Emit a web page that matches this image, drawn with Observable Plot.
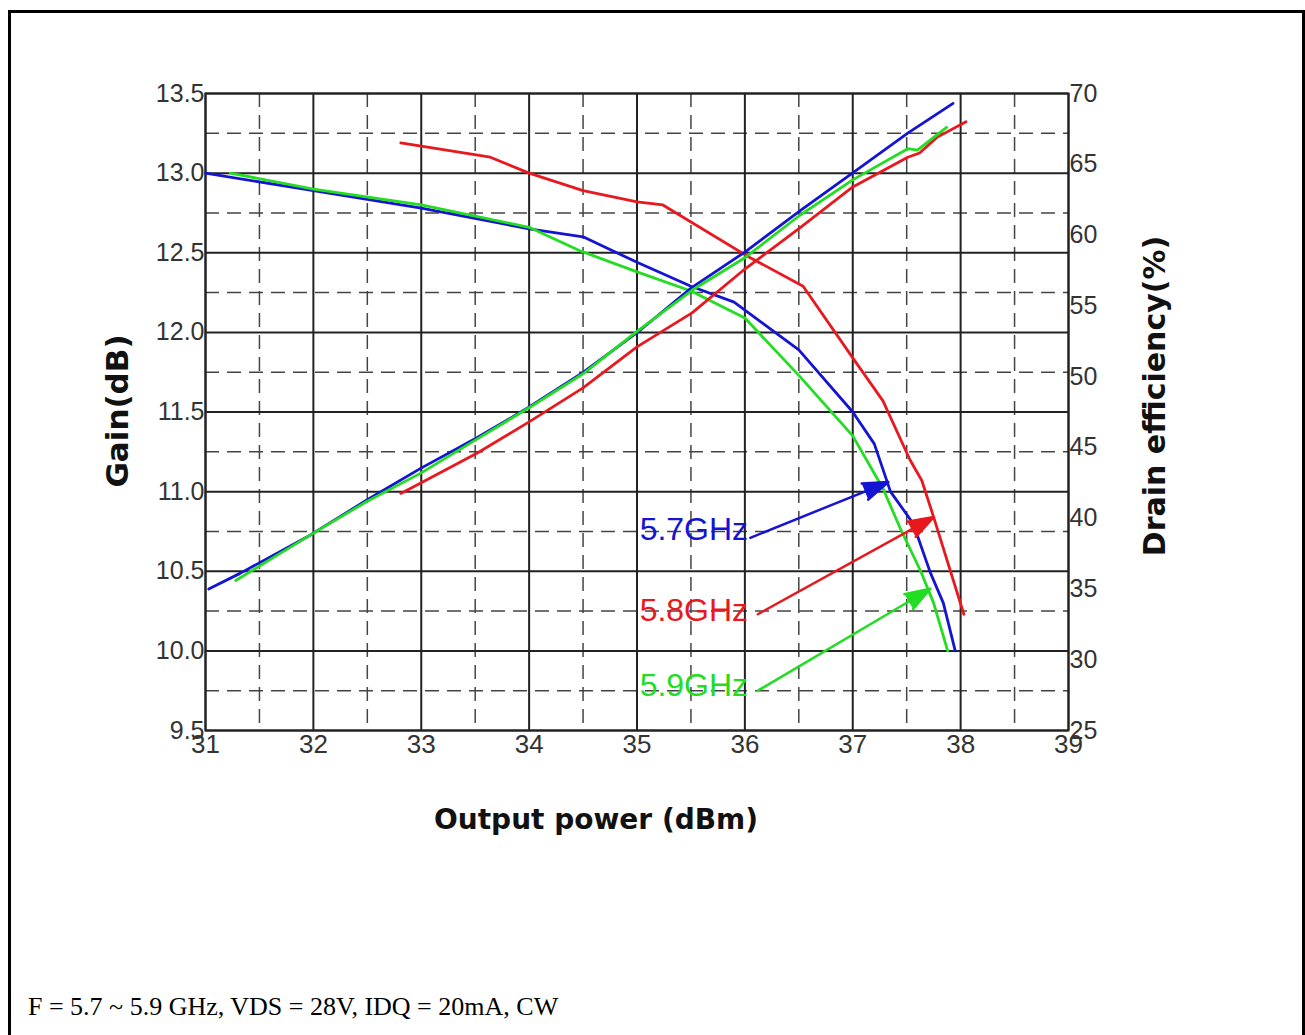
<!DOCTYPE html>
<html>
<head>
<meta charset="utf-8">
<script src="https://cdn.jsdelivr.net/npm/d3@7"></script>
<script src="https://cdn.jsdelivr.net/npm/@observablehq/plot@0.6"></script>
<style>
  html, body { margin: 0; padding: 0; background: #fff; }
  #wrap { position: relative; width: 1305px; height: 1035px; overflow: hidden; background: #fff; }
  #border { position: absolute; left: 8px; top: 10px; width: 1291px; height: 1040px; border: 3px solid #000; pointer-events: none; }
  #chart { position: absolute; left: 0; top: 0; }
  #caption { position: absolute; left: 28px; top: 994px; font-family: "Liberation Serif", "Times New Roman", serif; font-size: 26px; line-height: 1; color: #000; white-space: nowrap; }
</style>
</head>
<body>
<div id="wrap">
  <div id="chart"></div>
  <div id="border"></div>
  <div id="caption">F = 5.7 ~ 5.9 GHz, VDS = 28V, IDQ = 20mA, CW</div>
</div>
<script>
// ---- Data ----
const series = ["5.7GHz", "5.8GHz", "5.9GHz"];
const seriesColors = ["#1414d2", "#e8191e", "#22dd22"];

// Gain (dB) vs output power (dBm)
const gainP_57 = [31, 32, 33, 34, 34.5, 35, 35.5, 35.9, 36.5, 37, 37.2, 37.35, 37.56, 37.72, 37.84, 37.95];
const gain_57  = [13.0, 12.89, 12.78, 12.65, 12.6, 12.44, 12.29, 12.19, 11.89, 11.5, 11.3, 11.0, 10.8, 10.49, 10.3, 10.0];
const gainP_58 = [32.81, 33.64, 34, 34.5, 35, 35.24, 36.02, 36.54, 37, 37.28, 37.53, 37.64, 37.75, 38.03];
const gain_58  = [13.19, 13.1, 13.0, 12.89, 12.82, 12.8, 12.48, 12.29, 11.84, 11.57, 11.2, 11.07, 10.84, 10.23];
const gainP_59 = [31.23, 32, 33, 34, 34.48, 35, 35.5, 36, 36.5, 37, 37.28, 37.44, 37.63, 37.75, 37.88];
const gain_59  = [13.0, 12.9, 12.8, 12.66, 12.51, 12.38, 12.26, 12.09, 11.73, 11.35, 11.02, 10.77, 10.5, 10.3, 10.0];

// Drain efficiency (%) vs output power (dBm)
const effP_57 = [31.03, 31.32, 31.97, 32.5, 32.99, 33.52, 33.99, 34.5, 35, 35.51, 36, 36.51, 37, 37.51, 37.93];
const eff_57  = [35.0, 36.1, 38.8, 41.3, 43.5, 45.7, 47.8, 50.3, 53.1, 56.3, 58.8, 61.7, 64.4, 67.2, 69.3];
const effP_58 = [32.81, 33, 33.52, 34, 34.5, 35, 35.51, 36, 36.51, 37, 37.51, 37.62, 37.78, 38.05];
const eff_58  = [41.75, 42.5, 44.6, 46.8, 49.2, 52.1, 54.5, 57.6, 60.5, 63.4, 65.5, 65.8, 66.9, 68.0];
const effP_59 = [31.28, 31.97, 32.5, 33, 33.52, 34, 34.5, 35, 35.51, 36, 36.51, 37, 37.51, 37.6, 37.75, 37.87];
const eff_59  = [35.6, 38.8, 41.2, 43.2, 45.6, 47.8, 50.2, 53.2, 56.1, 58.4, 61.4, 63.9, 66.1, 66.0, 66.9, 67.6];

// Annotation labels and arrows (data coordinates: power, gain)
const labelP = [36.03, 36.03, 36.03];
const labelGain = [10.76, 10.25, 9.78];
const arrowP1 = [36.05, 36.12, 36.12];
const arrowG1 = [10.71, 10.23, 9.75];
const arrowP2 = [37.33, 37.75, 37.72];
const arrowG2 = [11.06, 10.84, 10.39];

// Axes
const xTicks = [31, 32, 33, 34, 35, 36, 37, 38, 39];
const gainTicks = [9.5, 10.0, 10.5, 11.0, 11.5, 12.0, 12.5, 13.0, 13.5];
const effTicks = [25, 30, 35, 40, 45, 50, 55, 60, 65, 70];
const xMinor = [31.5, 32.5, 33.5, 34.5, 35.5, 36.5, 37.5, 38.5];
const gainMinor = [9.75, 10.25, 10.75, 11.25, 11.75, 12.25, 12.75, 13.25];

// ---- Build tables ----
const gMin = 9.5, gMax = 13.5, eMin = 25, eMax = 70;
const effToGain = e => gMin + (e - eMin) * (gMax - gMin) / (eMax - eMin);
const gainToEff = g => eMin + (g - gMin) * (eMax - eMin) / (gMax - gMin);

const curves = [];
[[gainP_57, gain_57, 0], [gainP_58, gain_58, 1], [gainP_59, gain_59, 2]].forEach(([xs, ys, s]) => {
  xs.forEach((x, i) => curves.push({key: "gain-" + s, s, x, y: ys[i]}));
});
[[effP_57, eff_57, 0], [effP_58, eff_58, 1], [effP_59, eff_59, 2]].forEach(([xs, ys, s]) => {
  xs.forEach((x, i) => curves.push({key: "eff-" + s, s, x, y: effToGain(ys[i])}));
});

const labels = series.map((t, i) => ({text: t, x: labelP[i], y: labelGain[i], color: seriesColors[i]}));
const arrows = series.map((t, i) => ({x1: arrowP1[i], y1: arrowG1[i], x2: arrowP2[i], y2: arrowG2[i], color: seriesColors[i]}));

const tickFont = "'Liberation Sans', Arial, sans-serif";
const boldFont = "'DejaVu Sans', Verdana, sans-serif";

const chart = Plot.plot({
  width: 1305,
  height: 860,
  marginLeft: 205,
  marginRight: 237,
  marginTop: 93,
  marginBottom: 130,
  style: {fontFamily: tickFont, fontSize: "25px", background: "transparent", overflow: "visible"},
  x: {domain: [31, 39]},
  y: {domain: [gMin, gMax]},
  marks: [
    Plot.ruleX(xMinor, {stroke: "#444", strokeWidth: 1.5, strokeDasharray: "14,8"}),
    Plot.ruleY(gainMinor, {stroke: "#444", strokeWidth: 1.5, strokeDasharray: "14,8"}),
    Plot.ruleX(xTicks, {stroke: "#222", strokeWidth: 2}),
    Plot.ruleY(gainTicks, {stroke: "#222", strokeWidth: 2}),
    Plot.frame({stroke: "#222", strokeWidth: 2}),
    Plot.line(curves, {x: "x", y: "y", z: "key", stroke: d => seriesColors[d.s], strokeWidth: 2.8, curve: "linear"}),
    ...arrows.map(a => Plot.arrow([a], {x1: "x1", y1: "y1", x2: "x2", y2: "y2", stroke: a.color, fill: a.color, strokeWidth: 2.5, headLength: 16, headAngle: 38})),
    Plot.text(labels, {x: "x", y: "y", text: "text", fill: d => d.color, textAnchor: "end", fontSize: 32, fontFamily: tickFont}),
    Plot.axisX(xTicks, {tickSize: 0, tickPadding: 4, fontSize: 26, fill: "#333", label: null}),
    Plot.axisY(gainTicks, {anchor: "left", tickSize: 0, tickPadding: 1, fontSize: 25, fill: "#333", tickFormat: d => d.toFixed(1), label: null}),
    Plot.axisY(effTicks.map(effToGain), {anchor: "right", tickSize: 0, tickPadding: 1, fontSize: 25, fill: "#333", tickFormat: d => String(Math.round(gainToEff(d))), label: null}),
    Plot.text(["Gain(dB)"], {text: d => d, frameAnchor: "left", textAnchor: "middle", lineAnchor: "middle", dx: -87, dy: -1, rotate: -90, fontSize: 31, fontWeight: "bold", fontFamily: boldFont, fill: "#111"}),
    Plot.text(["Drain efficiency(%)"], {text: d => d, frameAnchor: "right", textAnchor: "middle", lineAnchor: "middle", dx: 87, dy: -16, rotate: -90, fontSize: 30, fontWeight: "bold", fontFamily: boldFont, fill: "#111"}),
    Plot.text(["Output power (dBm)"], {text: d => d, frameAnchor: "bottom", textAnchor: "middle", lineAnchor: "middle", dx: -41, dy: 90, fontSize: 28, fontWeight: "bold", fontFamily: boldFont, fill: "#111"})
  ]
});
document.getElementById("chart").appendChild(chart);
</script>
</body>
</html>
